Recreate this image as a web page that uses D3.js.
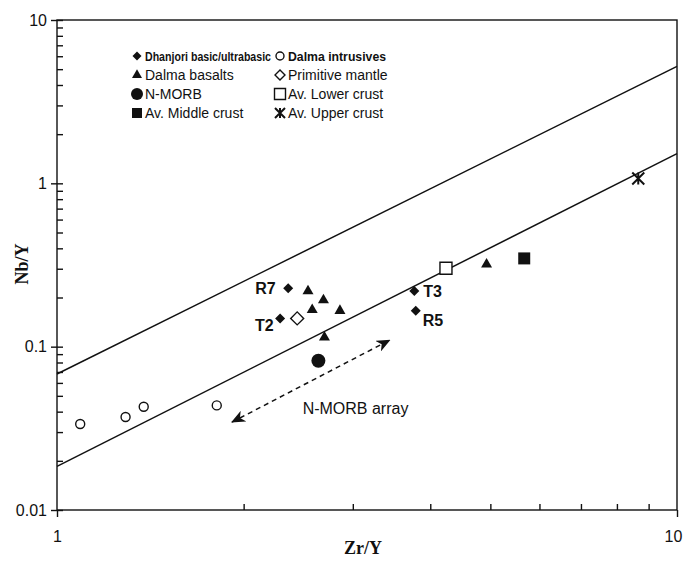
<!DOCTYPE html>
<html lang="en">
<head>
  <meta charset="UTF-8">
  <title>Nb/Y vs Zr/Y</title>
  <script src="https://d3js.org/d3.v7.min.js"></script>
  <style>
    body { margin: 0; background: #fff; }
    svg { display: block; font-family: Arial, "Liberation Sans", sans-serif; }
    .tick text { font-size: 16px; fill: #111; }
    .axis path, .axis line { stroke: #111; stroke-width: 1.4px; }
    .legend text { font-size: 14px; fill: #111; }
    .legend text.head { font-weight: bold; }
    .ptlabel { font-size: 16px; font-weight: bold; fill: #111; }
    .title { font-family: "Liberation Serif", "DejaVu Serif", serif; font-size: 18px; font-weight: bold; fill: #111; }
  </style>
</head>
<body>
<svg id="chart" width="685" height="561"></svg>
<script>
// data (Zr/Y, Nb/Y)
const dhanjori = [
  { label: "R7", zr: 2.36, nb: 0.228 },
  { label: "T2", zr: 2.29, nb: 0.149 },
  { label: "T3", zr: 3.77, nb: 0.219 },
  { label: "R5", zr: 3.79, nb: 0.166 }
];
const dalmaBasalts = [
  { zr: 2.54, nb: 0.219 }, { zr: 2.69, nb: 0.193 }, { zr: 2.58, nb: 0.168 },
  { zr: 2.86, nb: 0.166 }, { zr: 2.70, nb: 0.114 }, { zr: 4.93, nb: 0.319 }
];
const dalmaIntrusives = [
  { zr: 1.09, nb: 0.0336 }, { zr: 1.29, nb: 0.0371 }, { zr: 1.38, nb: 0.0429 }, { zr: 1.81, nb: 0.0437 }
];
const nmorb = [{ zr: 2.64, nb: 0.082 }];
const primitiveMantle = [{ zr: 2.44, nb: 0.149 }];
const lowerCrust = [{ zr: 4.24, nb: 0.302 }];
const middleCrust = [{ zr: 5.67, nb: 0.347 }];
const upperCrust = [{ zr: 8.66, nb: 1.07 }];

// reference lines (end points at Zr/Y = 1 and 10)
const upperLine = [{ zr: 1, nb: 0.068 }, { zr: 10, nb: 5.2 }];
const lowerLine = [{ zr: 1, nb: 0.0185 }, { zr: 10, nb: 1.52 }];
// N-MORB array arrow
const morbArrow = [{ zr: 1.915, nb: 0.0345 }, { zr: 3.44, nb: 0.1097 }];
const morbLabel = { text: "N-MORB array", zr: 2.49, nb: 0.0385 };

const xTicks = [1, 10];
const yTicks = [0.01, 0.1, 1, 10];
const yTickLabels = ["0.01", "0.1", "1", "10"];

const legendLeft = ["Dhanjori basic/ultrabasic", "Dalma basalts", "N-MORB", "Av. Middle crust"];
const legendRight = ["Dalma intrusives", "Primitive mantle", "Av. Lower crust", "Av. Upper crust"];

const svg = d3.select("#chart");
const ink = "#111";

const x = d3.scaleLog().domain([1, 10]).range([57, 677]);
const y = d3.scaleLog().domain([0.01, 10]).range([510, 20]);

// minor ticks
const xMinor = d3.range(2, 10);
const yMinor = [];
[0.01, 0.1, 1].forEach(d => d3.range(2, 10).forEach(k => yMinor.push(+(d * k).toPrecision(3))));

// frame
svg.append("rect")
  .attr("x", x(1)).attr("y", y(10))
  .attr("width", x(10) - x(1)).attr("height", y(0.01) - y(10))
  .attr("fill", "none").attr("stroke", ink).attr("stroke-width", 1.4);

// y axis: inside ticks + outside major ticks with labels
svg.append("g").attr("class", "axis")
  .attr("transform", `translate(${x(1)},0)`)
  .call(d3.axisRight(y).tickValues(yMinor.concat(yTicks)).tickSize(6).tickFormat(""))
  .call(g => g.select(".domain").remove());
svg.append("g").attr("class", "axis")
  .attr("transform", `translate(${x(1)},0)`)
  .call(d3.axisLeft(y).tickValues(yTicks).tickSize(6).tickPadding(4)
    .tickFormat((d, i) => yTickLabels[i]))
  .call(g => g.select(".domain").remove());

// x axis
svg.append("g").attr("class", "axis")
  .attr("transform", `translate(0,${y(0.01)})`)
  .call(d3.axisTop(x).tickValues(xMinor).tickSize(6).tickFormat(""))
  .call(g => g.select(".domain").remove());
svg.append("g").attr("class", "axis")
  .attr("transform", `translate(0,${y(0.01)})`)
  .call(d3.axisBottom(x).tickValues(xTicks).tickSize(7).tickPadding(14).tickFormat(d3.format("d")))
  .call(g => g.select(".domain").remove())
  .call(g => g.selectAll(".tick text").attr("dx", d => d === 10 ? -4 : 0));

// axis titles
svg.append("text").attr("class", "title")
  .attr("transform", "translate(28,264) rotate(-90)")
  .attr("text-anchor", "middle").text("Nb/Y");
svg.append("text").attr("class", "title")
  .attr("x", 363).attr("y", 554)
  .attr("text-anchor", "middle").text("Zr/Y");

// reference lines
const line = d3.line().x(d => x(d.zr)).y(d => y(d.nb));
[upperLine, lowerLine].forEach(l => {
  svg.append("path").datum(l).attr("d", line)
    .attr("fill", "none").attr("stroke", ink).attr("stroke-width", 1.5);
});

// arrow
const defs = svg.append("defs");
defs.append("marker").attr("id", "head")
  .attr("viewBox", "0 0 14 12").attr("refX", 13).attr("refY", 6)
  .attr("markerWidth", 14).attr("markerHeight", 12)
  .attr("markerUnits", "userSpaceOnUse").attr("orient", "auto-start-reverse")
  .append("path").attr("d", "M0,0 L14,6 L0,12 L4,6 Z").attr("fill", ink);
svg.append("path").datum(morbArrow).attr("d", line)
  .attr("fill", "none").attr("stroke", ink).attr("stroke-width", 1.5)
  .attr("stroke-dasharray", "5,4")
  .attr("marker-start", "url(#head)").attr("marker-end", "url(#head)");
svg.append("text").attr("x", x(morbLabel.zr)).attr("y", y(morbLabel.nb))
  .attr("font-size", 16).attr("fill", ink).text(morbLabel.text);

// symbol helpers
function symbolPath(kind, s) {
  switch (kind) {
    case "diamond": return d3.symbol(d3.symbolSquare, s * s / 2)();
    case "triangle": return d3.symbol(d3.symbolTriangle, Math.sqrt(3) / 4 * s * s)();
    case "circle": return d3.symbol(d3.symbolCircle, Math.PI * s * s / 4)();
    case "square": return d3.symbol(d3.symbolSquare, s * s)();
    case "star": {
      const h = s / 2;
      return `M${-h},${-h}L${h},${h}M${-h},${h}L${h},${-h}M0,${-h}L0,${h}`;
    }
  }
}
function drawSymbol(g, kind, filled, s, cx, cy) {
  const p = g.append("path")
    .attr("d", symbolPath(kind, s))
    .attr("transform", `translate(${cx},${cy})` + (kind === "diamond" ? " rotate(45)" : ""));
  if (kind === "star") {
    p.attr("fill", "none").attr("stroke", ink).attr("stroke-width", 2);
  } else if (filled) {
    p.attr("fill", ink).attr("stroke", "none");
  } else {
    p.attr("fill", "#fff").attr("stroke", ink).attr("stroke-width", 1.4);
  }
}

const series = [
  { data: dalmaIntrusives, kind: "circle", filled: false, size: 9 },
  { data: dalmaBasalts, kind: "triangle", filled: true, size: 11 },
  { data: dhanjori, kind: "diamond", filled: true, size: 10 },
  { data: primitiveMantle, kind: "diamond", filled: false, size: 13 },
  { data: nmorb, kind: "circle", filled: true, size: 14 },
  { data: lowerCrust, kind: "square", filled: false, size: 12 },
  { data: middleCrust, kind: "square", filled: true, size: 12 },
  { data: upperCrust, kind: "star", filled: true, size: 12 }
];
const pts = svg.append("g");
series.forEach(s => s.data.forEach(d => drawSymbol(pts, s.kind, s.filled, s.size, x(d.zr), y(d.nb))));

// sample labels
const labelOffsets = { R7: [-33, 6], T2: [-25, 13], T3: [9, 6], R5: [7, 15] };
svg.selectAll(".ptlabel").data(dhanjori).enter().append("text")
  .attr("class", "ptlabel")
  .attr("x", d => x(d.zr) + labelOffsets[d.label][0])
  .attr("y", d => y(d.nb) + labelOffsets[d.label][1])
  .text(d => d.label);

// legend
const legend = svg.append("g").attr("class", "legend");
const legendLeftSym = [["diamond", true, 9], ["triangle", true, 10], ["circle", true, 12], ["square", true, 10]];
const legendRightSym = [["circle", false, 8], ["diamond", false, 10], ["square", false, 11], ["star", true, 10]];
const rowY = [56, 75, 94, 113];
legendLeft.forEach((t, i) => {
  const [k, f, s] = legendLeftSym[i];
  drawSymbol(legend, k, f, s, 137, rowY[i]);
  const txt = legend.append("text").attr("x", 145).attr("y", rowY[i] + 5).text(t);
  if (i === 0) txt.attr("class", "head").style("font-size", "12px")
    .attr("textLength", 126).attr("lengthAdjust", "spacingAndGlyphs");
});
legendRight.forEach((t, i) => {
  const [k, f, s] = legendRightSym[i];
  drawSymbol(legend, k, f, s, 280, rowY[i]);
  const txt = legend.append("text").attr("x", 288).attr("y", rowY[i] + 5).text(t);
  if (i === 0) txt.attr("class", "head").style("font-size", "13.5px")
    .attr("textLength", 98).attr("lengthAdjust", "spacingAndGlyphs");
});
</script>
</body>
</html>
